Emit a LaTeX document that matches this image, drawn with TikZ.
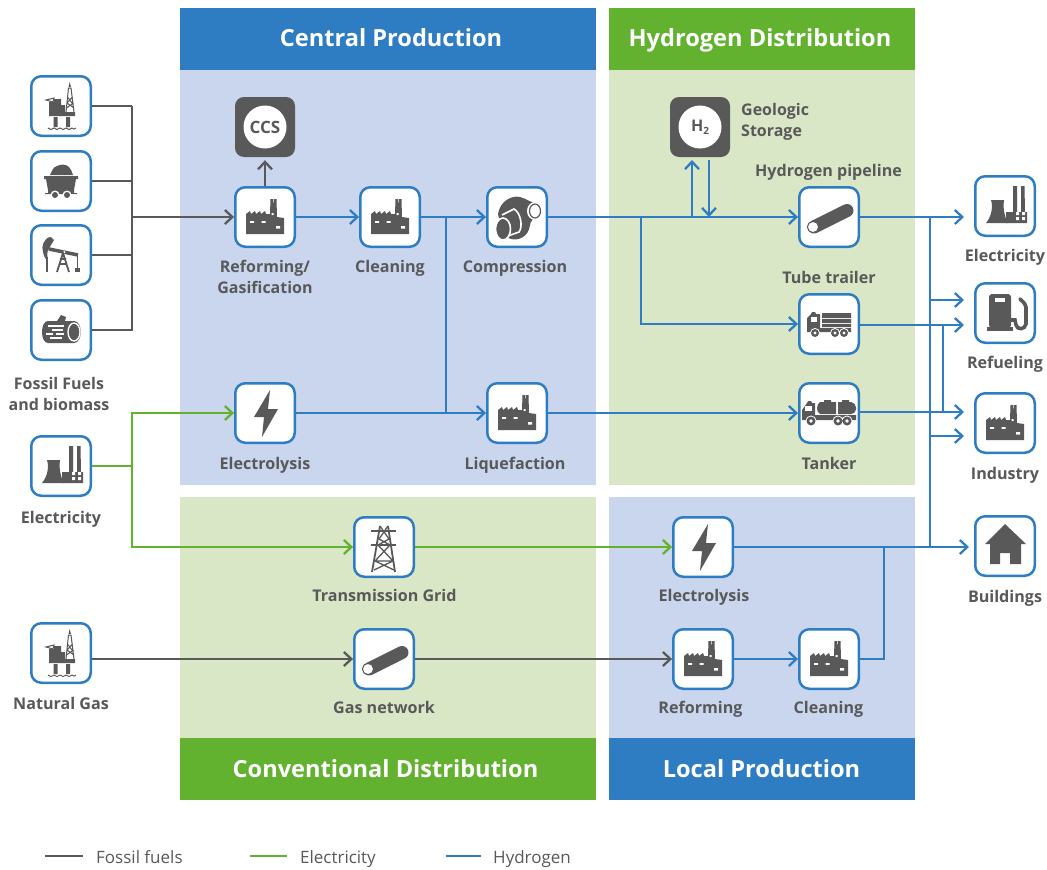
\documentclass[tikz,border=0pt]{standalone}
\usepackage{fontspec}
\setmainfont{Open Sans}
\usetikzlibrary{arrows.meta}
\definecolor{gr}{HTML}{595959}
\definecolor{bl}{HTML}{2E7DC3}
\definecolor{ge}{HTML}{62B22F}
\definecolor{lb}{HTML}{C9D6EE}
\definecolor{lg}{HTML}{DAE7C7}
\tikzset{
 x=1pt,y=-1pt,
 head/.style={fill=#1,draw=none,inner sep=0,outer sep=0,text=white,text height=18pt,text depth=5pt,font=\fontsize{23.6}{24}\selectfont\bfseries},
 iconbox/.style={draw=bl,line width=2.5pt,fill=white,rounded corners=10pt,minimum size=59.5pt,inner sep=0,outer sep=1.2pt},
 darkbox/.style={fill=gr,rounded corners=9pt,minimum size=60pt,inner sep=0},
 lab/.style={text=gr,font=\fontsize{16}{21}\selectfont\bfseries,align=center,inner sep=0},
 lbl/.style={text=gr,font=\fontsize{16.1}{21}\selectfont\bfseries,inner sep=0,anchor=base},
 leg/.style={text=gr,font=\fontsize{17}{20}\selectfont,anchor=base west,inner sep=0},
 cn/.style={line width=2.7pt,draw=#1},
 ar/.style={line width=2.7pt,draw=#1,-{Straight Barb[length=7.5pt,width=14pt,line width=2.3pt]}},
 factory/.pic={
  \fill[gr] (-19,17)--(-19,-3)--(-15,-6)--(-14,-3)--(-10,-6)--(-9,-3)--(-5,-6)--(-4,-3)--(0,-6)--(1,-3)--(5,-3)--(5.5,-18)--(8,-18)--(8.5,-11)--(9,-18)--(11.5,-18)--(12,0)--(19,1)--(19,17)--cycle;
  \fill[white] (-15,4.2) rectangle (-11,5.8) (-3.5,4.2) rectangle (0.5,5.8) (11,9) rectangle (15,11.5) (6.5,-4) rectangle (8.5,-2);
 },
 plant/.pic={
  \fill[gr] (-19,17) .. controls (-13,10) and (-12,0) .. (-14,-6)--(-1,-6) .. controls (-2,2) and (-1,10) .. (3,17)--cycle;
  \fill[gr] (1,6)--(8,6)--(8,-20)--(12,-20)--(12,6)--(16,6)--(16,-20)--(19.5,-20)--(20,6)--(22,6)--(22,17)--(1,17)--cycle;
  \fill[white] (11,6) rectangle (14,9) (17,6) rectangle (20,9) (11,11) rectangle (14,14) (17,11) rectangle (20,14);
 },
 rig/.pic={
  \fill[gr] (-12,-4)--(-7,-4)--(-7,-7)--(0,-7)--(0,-1)--(4,-1)--(4,6)--(14,6)--(14,10)--(-12,10)--cycle;
  \fill[gr] (-7.5,11) rectangle (-3.5,21) (5,11) rectangle (9,21);
  \draw[gr,line width=1pt] (5,6)--(7.5,-18)--(10,-18)--(13,6) (6,-3)--(11.5,-9) (6.5,-9)--(11,-3) (5.5,2)--(12.5,-3) (6,-3)--(13,2);
  \fill[gr] (8.7,-24)--(10,-19)--(7.5,-19)--cycle;
  \draw[gr,line width=1pt] (-15,-6)--(-7,-8)--(-8,-4)--cycle;
  \draw[gr,line width=.9pt] (-13,22) .. controls (-11,24) and (-9,24) .. (-7,22) .. controls (-5,24) and (-3,24) .. (-1,22) .. controls (1,24) and (3,24) .. (5,22) .. controls (7,24) and (9,24) .. (11,22) .. controls (12,23.5) and (14,23.5) .. (15,22);
 },
 coal/.pic={
  \fill[gr] (-11,-6) .. controls (-9,-10) and (-8,-14) .. (-4,-15) .. controls (0,-17) and (5,-17) .. (8,-14) .. controls (10,-12) and (11,-9) .. (12,-6)--cycle;
  \fill[gr] (-17,-5)--(17,-5)--(17,-2)--(15,-2)--(13,9)--(13,12)--(16,12)--(16,13)--(-16,13)--(-16,12)--(-13,12)--(-13,9)--(-15,-2)--(-17,-2)--cycle;
  \fill[white] (-6,14) circle (4.5) (6,14) circle (4.5);
  \fill[gr] (-6,14) circle (3) (6,14) circle (3);
 },
 pump/.pic={
  \draw[gr,line width=1.5pt] (-14,2)--(-14,17);
  \fill[gr] (-10,-18) .. controls (-17,-18) and (-20,-8) .. (-18,-3) .. controls (-17,3) and (-14,6) .. (-13,5) .. controls (-14,0) and (-14,-5) .. (-12,-6) .. controls (-11,-9) and (-8,-13) .. (-7,-15)--cycle;
  \draw[gr,line width=3.5pt] (-12,-6)--(17,0);
  \fill[white] (3,-3) circle (1.5);
  \draw[gr,line width=1.8pt] (-4,17)--(2,-2)--(8,17) (-2,9)--(6,9) (-1,4)--(5,4);
  \draw[gr,line width=1pt] (16,0)--(16,13);
  \fill[gr] (13.5,13) rectangle (19,17);
 },
 logicon/.pic={
  \fill[gr] (-7,-9)--(-4,-9)--(0,-15)--(5,-13)--(4,-9)--(13,-9) .. controls (22,-9) and (22,13) .. (13,13)--(-13,13) .. controls (-21,13) and (-21,-9) .. (-13,-9)--cycle;
  \draw[white,line width=1.3pt] (13,2) ellipse (6 and 9);
  \draw[white,line width=1.3pt] (-13,-4)--(3,-4) (-9,0)--(2,0) (-15,4)--(-8,4) (-5,4)--(3,4) (-11,8)--(1,8);
 },
 pipeicon/.pic={
  \draw[gr,line width=13pt,line cap=round] (-15,10)--(18,-6.5);
  \filldraw[fill=white,draw=gr,line width=1pt] (-16,10) circle (5.6);
 },
 comp/.pic={
  \fill[gr] (-19,-3) .. controls (-17,-16) and (-5,-22) .. (3,-20) .. controls (10,-18) and (15,-14) .. (22,-12)--(24,-3)--(16,2) .. controls (11,6) and (15,14) .. (6,20) .. controls (-2,25) and (-12,22) .. (-15,14)--cycle;
  \draw[white,line width=1.6pt,fill=gr] (-15,-2)--(-3,-8) .. controls (4,-4) and (6,10) .. (2,15)--(-12,20);
  \draw[white,line width=1.6pt,fill=gr] (-14,12) ellipse (7.5 and 11);
  \fill[white] (18,-6) ellipse (8 and 9);
  \draw[gr,line width=1.2pt] (18,-6) ellipse (5.5 and 7);
 },
 tube/.pic={
  \fill[gr] (-22,-6)--(-18,-10)--(-17,-12)--(-14,-12)--(-13,-10)--(-9,-10)--(-9,4)--(22,4)--(22,8)--(-22,8)--cycle;
  \fill[white] (-18.5,-7) rectangle (-12,-2);
  \fill[gr] (-7,-11) rectangle (22,-6) (-7,-5) rectangle (22,-1) (-7,0) rectangle (22,3);
  \fill[white] (-14,9) circle (5) (6,9) circle (5) (15,9) circle (5);
  \fill[gr] (-14,9) circle (4) (6,9) circle (4) (15,9) circle (4);
  \fill[white] (-14,9) circle (1.6) (6,9) circle (1.6) (15,9) circle (1.6);
 },
 tank/.pic={
  \fill[gr] (-27,-3)--(-22,-10)--(-21,-12)--(-18,-12)--(-17,-10)--(-14,-10)--(-14,2)--(27,2)--(27,7)--(-27,7)--cycle;
  \fill[white] (-24.5,-7) rectangle (-17,-2);
  \fill[gr] (-9,-11) .. controls (-13,-8) and (-13,-1) .. (-9,1)--(7,1)--(7,-11)--cycle (9,-11)--(22,-11) .. controls (29,-9) and (29,0) .. (22,1)--(9,1)--cycle;
  \fill[gr] (-5,-13) rectangle (2,-11) (13,-13) rectangle (20,-11);
  \fill[white] (-18,8) circle (5.5) (9,8) circle (5.5) (18,8) circle (5.5);
  \fill[gr] (-18,8) circle (4.5) (9,8) circle (4.5) (18,8) circle (4.5);
  \fill[white] (-18,8) circle (1.8) (9,8) circle (1.8) (18,8) circle (1.8);
 },
 bolt/.pic={\fill[gr] (5,-23)--(-11,4)--(-1,4)--(-3,24)--(13,-4)--(3,-4)--cycle;},
 house/.pic={
  \fill[gr] (0,-22)--(21,-2)--(16,-2)--(16,18)--(5,18)--(5,7)--(-5,7)--(-5,18)--(-15,18)--(-15,-2)--(-20,-2)--cycle;
 },
 gasstation/.pic={
  \fill[gr,rounded corners=3pt] (-16,15)--(-16,-19)--(6,-19)--(6,15)--cycle;
  \fill[gr] (-18,14) rectangle (8,18);
  \fill[white] (-10,-15) rectangle (0,-11);
  \draw[gr,line width=3.6pt,line cap=round] (6,7)--(10,7)--(11,12) .. controls (12,17) and (20,17) .. (21,11)--(21,-6) .. controls (20,-10) and (17,-12) .. (15,-14);
 },
 pylon/.pic={
  \draw[gr,line width=1.6pt] (-13,-16)--(12,-16) (-13,-2)--(12,-2);
  \draw[gr,line width=1.8pt] (-4,-21)--(-12,25) (4,-21)--(11,25);
  \draw[gr,line width=1.3pt] (-4,-21)--(5,-8)--(-6,-2) (4,-21)--(-5,-8)--(6,-2) (-6,-2)--(9,14)--(-10,23) (6,-2)--(-9,14)--(10,23) (-9,14)--(9,14);
 },
}
\begin{document}
\begin{tikzpicture}
\useasboundingbox[fill=white] (0,0) rectangle (1047,870);
% panels
\fill[lb] (180,70) rectangle (596,485);
\fill[lg] (609,70) rectangle (915,485);
\fill[lg] (180,497) rectangle (596,738);
\fill[lb] (609,497) rectangle (915,738);
\fill[bl] (180,8) rectangle (596,70);
\fill[ge] (609,8) rectangle (915,70);
\fill[ge] (180,738) rectangle (596,800);
\fill[bl] (609,738) rectangle (915,800);
\node[head=bl] (hcp) at (391,39.5) {Central Production};
\node[head=ge] (hhd) at (760,39.5) {Hydrogen Distribution};
\node[head=ge] (hcd) at (385.5,771) {Conventional Distribution};
\node[head=bl] (hlp) at (761.5,771) {Local Production};
% nodes
\foreach \n/\x/\y in {oil/61/106,coal/61/181,pj/61/255,log/61/330,elin/61/466,ngas/61/653,
 ref/265/217,cle/390/217,com/517/217,ely/265/413,liq/517/413,tg/384/547,gn/384/659,
 pipe/829/217,tt/829/324,tk/829/413,lel/703/547,lre/703/659,lcl/829/659,
 oel/1005/206,ore/1005/313,oin/1005/423,obu/1005/546}
 {\node[iconbox] (\n) at (\x,\y) {};}
\node[darkbox] (ccs) at (265,127) {};
\fill[white] (ccs.center) circle (21.5);
\node[lab,font=\fontsize{17}{17}\selectfont\bfseries] (ccst) at (ccs.center) {CCS};
\node[darkbox] (h2) at (700,127) {};
\fill[white] (h2.center) circle (21.5);
\node[lab,font=\fontsize{16}{16}\selectfont\bfseries] (h2t) at (h2.center) {H\raisebox{-3pt}{\fontsize{10}{10}\selectfont 2}};
% icons
\pic at (oil) {rig}; \pic at (coal) {coal}; \pic at (pj) {pump}; \pic at (log) {logicon};
\pic at (elin) {plant}; \pic at (ngas) {rig};
\pic at (ref) {factory}; \pic at (cle) {factory}; \pic at (com) {comp}; \pic at (ely) {bolt}; \pic at (liq) {factory};
\pic at (tg) {pylon}; \pic at (gn) {pipeicon};
\pic at (pipe) {pipeicon}; \pic at (tt) {tube}; \pic at (tk) {tank};
\pic at (lel) {bolt}; \pic at (lre) {factory}; \pic at (lcl) {factory};
\pic at (oel) {plant}; \pic at (ore) {gasstation}; \pic at (oin) {factory}; \pic at (obu) {house};
% labels
\node[lab] (t1) at (59,394) {Fossil Fuels\\and biomass};
\node[lbl] (t2) at (61,523) {Electricity};
\node[lbl] (t3) at (61,709) {Natural Gas};
\node[lab] (t4) at (265,277) {Reforming/\\Gasification};
\node[lbl] (t5) at (390,272) {Cleaning};
\node[lbl] (t6) at (515,272) {Compression};
\node[lbl] (t7) at (265,469) {Electrolysis};
\node[lbl] (t8) at (515,469) {Liquefaction};
\node[lbl] (t9) at (384.5,601) {Transmission Grid};
\node[lbl] (t10) at (384,713) {Gas network};
\node[lab,align=left,anchor=west] (t11) at (741,122) {Geologic\\Storage};
\node[lbl] (t12) at (828.5,176) {Hydrogen pipeline};
\node[lbl] (t13) at (829,283) {Tube trailer};
\node[lbl] (t14) at (829,469) {Tanker};
\node[lbl] (t15) at (704,601) {Electrolysis};
\node[lbl] (t16) at (700.5,713) {Reforming};
\node[lbl] (t17) at (828.5,713) {Cleaning};
\node[lbl] (t18) at (1005,261) {Electricity};
\node[lbl] (t19) at (1005,368) {Refueling};
\node[lbl] (t20) at (1005,479) {Industry};
\node[lbl] (t21) at (1005,602) {Buildings};
% junctions
\coordinate (busA) at (132,217);
\coordinate (busG) at (132,466);
\coordinate (j446) at (446,217);
\coordinate (j446b) at (446,413);
\coordinate (j641) at (641,217);
\coordinate (j692) at (692,217);
\coordinate (j709) at (709,217);
\coordinate (j692t) at (692,160);
\coordinate (j709t) at (709,160);
\coordinate (b930t) at (930,217);
\coordinate (b930b) at (930,547);
\coordinate (b943t) at (943,325);
\coordinate (b943b) at (943,412);
\coordinate (e1) at (964,217);
\coordinate (e2a) at (964,300);
\coordinate (s2a) at (930,300);
\coordinate (e2b) at (964,325);
\coordinate (e3a) at (964,412);
\coordinate (e3b) at (964,436);
\coordinate (s3b) at (930,436);
\coordinate (e4) at (969,547);
\coordinate (j884) at (884,547);
% gray
\draw[cn=gr] (oil.east)--(oil.east-|busA);
\draw[cn=gr] (coal.east)--(coal.east-|busA);
\draw[cn=gr] (pj.east)--(pj.east-|busA);
\draw[cn=gr,line join=miter] (oil.east-|busA)--(log.east-|busA)--(log.east);
\draw[ar=gr] (busA)--(ref.west);
\draw[ar=gr,shorten >=3pt] (ref.north)--(ccs.south);
\draw[ar=gr] (ngas.east|-gn.west)--(gn.west);
\draw[ar=gr] (gn.east)--(lre.west);
% green
\draw[cn=ge] (elin.east|-busG)--(busG);
\draw[ar=ge] (busG)|-(ely.west);
\draw[ar=ge] (busG)|-(tg.west);
\draw[ar=ge] (tg.east)--(lel.west);
% blue
\draw[ar=bl] (ref.east)--(cle.west);
\draw[ar=bl] (cle.east)--(com.west);
\draw[cn=bl] (j446)--(j446b);
\draw[ar=bl] (ely.east)--(liq.west);
\draw[ar=bl] (com.east)--(pipe.west);
\draw[ar=bl] (j641)|-(tt.west);
\draw[ar=bl] (j692)--(j692t);
\draw[ar=bl] (j709t)--(j709);
\draw[ar=bl] (liq.east)--(tk.west);
\draw[ar=bl] (pipe.east)--(e1);
\draw[cn=bl] (b930t)--(b930b);
\draw[ar=bl] (s2a)--(e2a);
\draw[ar=bl] (tt.east|-e2b)--(e2b);
\draw[cn=bl] (b943t)--(b943b);
\draw[ar=bl] (tk.east|-e3a)--(e3a);
\draw[ar=bl] (s3b)--(e3b);
\draw[ar=bl] (lel.east)--(e4);
\draw[ar=bl] (lre.east)--(lcl.west);
\draw[cn=bl,line join=miter] (lcl.east)-|(j884);
% legend
\coordinate (l1a) at (45,856); \coordinate (l1b) at (83,856);
\coordinate (l2a) at (250,856); \coordinate (l2b) at (287,856);
\coordinate (l3a) at (446,856); \coordinate (l3b) at (481,856);
\draw[cn=gr] (l1a)--(l1b);
\draw[cn=ge] (l2a)--(l2b);
\draw[cn=bl] (l3a)--(l3b);
\node[leg] (lt1) at (96,863) {Fossil fuels};
\node[leg] (lt2) at (300,863) {Electricity};
\node[leg] (lt3) at (493,863) {Hydrogen};
\end{tikzpicture}
\end{document}
